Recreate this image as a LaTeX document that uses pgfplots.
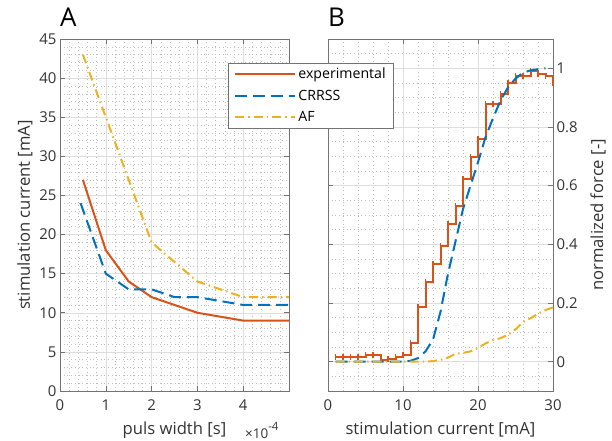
\documentclass[border=0pt]{standalone}
\usepackage{pgfplots}
\pgfplotsset{compat=1.18}
\usepackage{fontspec}
\setmainfont{Open Sans}
\definecolor{mred}{RGB}{217,83,25}
\definecolor{mblue}{RGB}{0,114,189}
\definecolor{myel}{RGB}{237,177,32}
\pgfplotsset{
  mstyle/.style={
    scale only axis, clip mode=individual,
    font=\fontsize{15}{18}\selectfont,
    /pgf/number format/assume math mode=true,
    axis line style={black!55, line width=0.6bp},
    tick style={black!55, line width=0.6bp},
    tick align=inside,
    major tick length=5bp,
    minor tick length=0pt,
    grid=both,
    major grid style={black!13, line width=0.5bp},
    minor grid style={black!25, line width=0.5bp, dash pattern=on 0.7bp off 3bp},
    ticklabel style={text=black!80},
    xticklabel style={yshift=-5bp},
    label style={text=black!80, font=\fontsize{16.7}{20}\selectfont},
    xlabel style={yshift=-5bp},
    title style={font=\fontsize{26}{26}\selectfont, text=black, at={(0,1)}, anchor=base west, inner sep=0pt, yshift=7bp},
  },
  exp/.style={mred, line width=2bp},
  crr/.style={mblue, line width=2bp, dash pattern=on 12bp off 6bp},
  af/.style={myel, line width=2bp, dash pattern=on 9bp off 4bp on 1.5bp off 4bp},
}
\begin{document}
\begin{tikzpicture}
\useasboundingbox (0,0) rectangle (612bp,441bp);
% panel A: strength-duration
\begin{axis}[mstyle, at={(60bp,50bp)}, anchor=south west, width=229bp, height=352bp,
  xmin=0, xmax=5, ymin=0, ymax=45,
  xtick={0,1,2,3,4}, ytick={0,5,...,45},
  minor xtick={0,0.2,...,5}, minor ytick={0,1,...,45},
  xlabel={puls width [s]}, ylabel={stimulation current [mA]},
  title={A}]
\addplot[exp] coordinates {(0.5,27)(1,18)(1.5,14)(2,12)(3,10)(4,9)(5,9)};
\addplot[crr] coordinates {(0.45,24)(1,15)(1.5,13)(2,13)(2.5,12)(3,12)(4,11)(5,11)};
\addplot[af] coordinates {(0.5,43)(1,35)(1.5,27)(2,19)(3,14)(4,12)(5,12)};
\node[anchor=base west, text=black!80, inner sep=0pt, font=\fontsize{13.5}{14}\selectfont]
  at (axis description cs:0.808,-0.134) {×10\raisebox{0.55em}{\fontsize{11.5}{12}\selectfont -4}};
\end{axis}
% panel B: recruitment
\begin{axis}[mstyle, at={(328bp,50bp)}, anchor=south west, width=225bp, height=352bp,
  xmin=0, xmax=30, ymin=-0.1, ymax=1.1,
  xtick={0,10,20,30}, ytick={0,0.2,...,1},
  minor xtick={0,2,...,30}, minor ytick={-0.1,-0.05,...,1.1},
  yticklabel pos=right,
  ylabel style={at={(axis description cs:1.20,0.5)}, anchor=center},
  xlabel={stimulation current [mA]}, ylabel={normalized force [-]},
  title={B},
  legend style={at={(-0.444,0.932)}, anchor=north west, draw=black!55, fill=white,
    line width=0.6bp, row sep=5.5bp, inner xsep=6bp, inner ysep=3bp,
    font=\fontsize{14.2}{17}\selectfont, text=black},
  legend cell align=left,
  legend image code/.code={\draw[#1] (0bp,0bp) -- (60bp,0bp);}]
\addlegendimage{exp}
\addlegendimage{crr}
\addlegendimage{af}
\legend{experimental\hspace{8bp}, CRRSS, AF}
\addplot[exp, const plot, mark=|, mark size=3bp, mark options={solid, mred, line width=1.4bp}, forget plot] coordinates {
(1,0.017)(2,0.017)(3,0.017)(4,0.017)(5,0.022)(6,0.022)(7,0.006)(8,0.01)(9,0.015)(10,0.023)
(11,0.065)(12,0.185)(13,0.273)(14,0.333)(15,0.395)(16,0.468)(17,0.53)(18,0.622)(19,0.698)(20,0.758)
(21,0.88)(22,0.88)(23,0.912)(24,0.949)(25,0.975)(26,0.975)(27,0.99)(28,0.98)(29,0.975)(30,0.95)};
\addplot[crr, forget plot] coordinates {
(1,0)(10,0)(11,0.003)(12,0.012)(13,0.035)(14,0.075)(15,0.17)(16,0.3)(17,0.41)(18,0.52)(19,0.6)
(20,0.68)(21,0.765)(22,0.83)(23,0.89)(24,0.935)(25,0.965)(26,0.985)(27,0.993)(28,0.997)(29,1.0)};
\addplot[af, forget plot] coordinates {
(1,0)(13,0)(14,0.002)(15,0.006)(16,0.014)(17,0.027)(18,0.03)(19,0.035)(20,0.047)(21,0.062)
(22,0.074)(23,0.08)(24,0.092)(25,0.11)(26,0.135)(27,0.148)(28,0.163)(29,0.176)(30,0.185)};
\end{axis}
\end{tikzpicture}
\end{document}
